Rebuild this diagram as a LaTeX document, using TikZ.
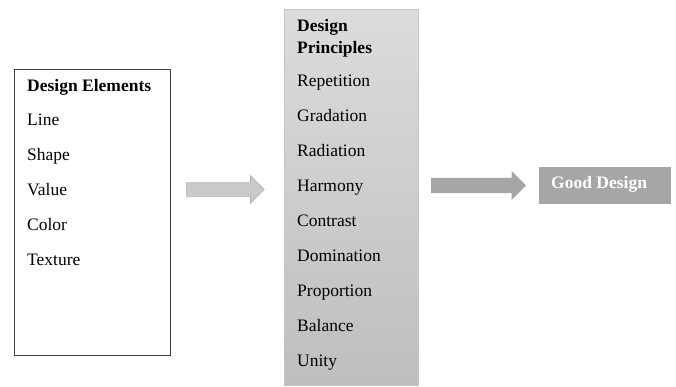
\documentclass[tikz,border=0pt]{standalone}
\usepackage{fontspec}
\setmainfont{Liberation Serif}
\usetikzlibrary{shapes.arrows}
\definecolor{boxline}{HTML}{404040}
\definecolor{arrowA}{HTML}{CACACA}
\definecolor{arrowAline}{HTML}{B0B0B0}
\definecolor{arrowB}{HTML}{A6A6A6}
\definecolor{midtop}{HTML}{DCDCDC}
\definecolor{midbot}{HTML}{BEBEBE}
\definecolor{midline}{HTML}{C4C4C4}
\tikzset{
  lbl/.style={anchor=base west, inner sep=0pt, font=\fontsize{17.5}{21}\selectfont},
  ttl/.style={lbl, font=\fontsize{17.5}{21}\selectfont\bfseries},
  blockarrow/.style={single arrow, inner sep=0pt, text height=#1, text depth=0pt,
     single arrow head extend=7pt, single arrow tip angle=90, single arrow head indent=0pt},
}
\begin{document}
\begin{tikzpicture}[x=1pt,y=-1pt]
\useasboundingbox (0,0) rectangle (676,387);
% left box
\node[draw=boxline, line width=1pt, inner sep=0pt, minimum width=156pt, minimum height=286pt, anchor=north west] (elems) at (14,69) {};
\node[ttl] (e0) at (27,92) {Design Elements};
\node[lbl] (e1) at (27,126) {Line};
\node[lbl] (e2) at (27,161) {Shape};
\node[lbl] (e3) at (27,195.5) {Value};
\node[lbl] (e4) at (27,230) {Color};
\node[lbl] (e5) at (27,265) {Texture};
% middle box
\node[draw=midline, line width=0.8pt, top color=midtop, bottom color=midbot, inner sep=0pt, minimum width=134pt, minimum height=376pt, anchor=north west] (princ) at (284,9) {};
\node[ttl] (p0) at (297,32) {Design};
\node[ttl] (p00) at (297,54) {Principles};
\node[lbl] (p1) at (297,87) {Repetition};
\node[lbl] (p2) at (297,122) {Gradation};
\node[lbl] (p3) at (297,157) {Radiation};
\node[lbl] (p4) at (297,191.5) {Harmony};
\node[lbl] (p5) at (297,226) {Contrast};
\node[lbl] (p6) at (297,261) {Domination};
\node[lbl] (p7) at (297,296) {Proportion};
\node[lbl] (p8) at (297,331) {Balance};
\node[lbl] (p9) at (297,366) {Unity};
% good design box
\node[fill=arrowB, inner sep=0pt, minimum width=132pt, minimum height=37pt, anchor=north west] (good) at (539,167) {};
\node[ttl, text=white] (gt) at (551,189) {Good Design};
% arrows
\node[blockarrow=13pt, draw=arrowAline, fill=arrowA, line width=0.6pt, minimum height=78pt, anchor=west] (arr1) at (186,189.5) {};
\node[blockarrow=15pt, fill=arrowB, minimum height=95pt, anchor=west] (arr2) at (431,185.5) {};
\end{tikzpicture}
\end{document}
